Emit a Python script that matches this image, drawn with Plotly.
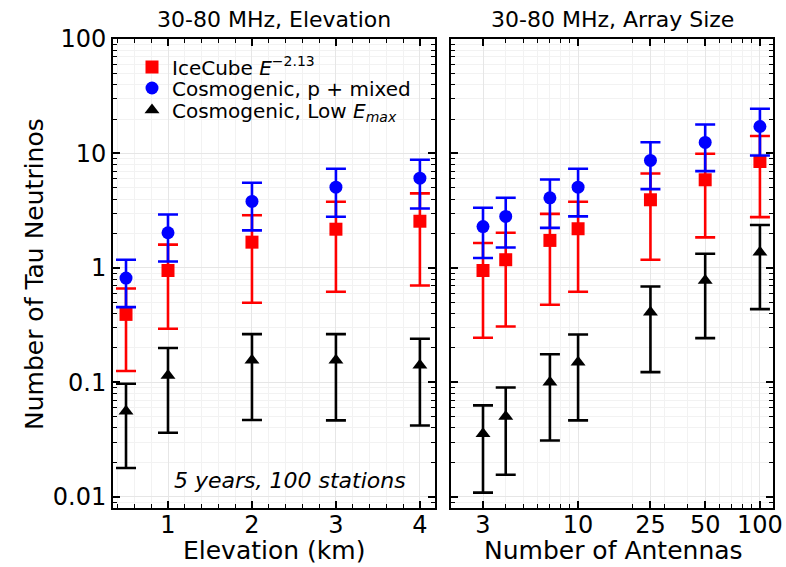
import numpy as np
import plotly.graph_objects as go
from plotly.subplots import make_subplots

# ---------------- data ----------------
elev = [0.5, 1, 2, 3, 4]
ice_elev = [0.393, 0.95, 1.68, 2.18, 2.56]
ice_elev_hi = [0.662, 1.60, 2.89, 3.79, 4.48]
ice_elev_lo = [0.126, 0.294, 0.497, 0.62, 0.703]
cos_elev = [0.815, 2.03, 3.81, 5.08, 6.08]
cos_elev_hi = [1.18, 2.93, 5.55, 7.35, 8.81]
cos_elev_lo = [0.455, 1.14, 2.13, 2.80, 3.31]
low_elev = [0.056, 0.115, 0.156, 0.156, 0.141]
low_elev_hi = [0.0975, 0.20, 0.264, 0.264, 0.241]
low_elev_lo = [0.0179, 0.0363, 0.047, 0.0466, 0.042]

ant = [3, 4, 7, 10, 25, 50, 100]
ice_ant = [0.95, 1.18, 1.74, 2.20, 3.94, 5.89, 8.51]
ice_ant_hi = [1.65, 2.03, 2.97, 3.79, 6.69, 9.94, 14.2]
ice_ant_lo = [0.246, 0.308, 0.477, 0.62, 1.18, 1.85, 2.78]
cos_ant = [2.30, 2.82, 4.10, 5.08, 8.69, 12.5, 17.2]
cos_ant_hi = [3.36, 4.10, 5.93, 7.35, 12.55, 17.9, 24.6]
cos_ant_lo = [1.22, 1.51, 2.24, 2.82, 4.88, 7.01, 9.6]
low_ant = [0.0356, 0.0505, 0.1006, 0.150, 0.411, 0.778, 1.37]
low_ant_hi = [0.063, 0.0904, 0.176, 0.262, 0.689, 1.33, 2.37]
low_ant_lo = [0.0109, 0.0156, 0.0311, 0.0466, 0.123, 0.244, 0.437]

y_ticks = [0.01, 0.1, 1, 10, 100]
y_ticktext = ["0.01", "0.1", "1", "10", "100"]
elev_ticks = [1, 2, 3, 4]
ant_ticks = [3, 10, 25, 50, 100]
ant_minor = [4, 5, 6, 7, 8, 9, 20, 30, 40, 60, 70, 80, 90]

names = ["IceCube <i>E</i><sup>−2.13</sup>",
         "Cosmogenic, p + mixed",
         "Cosmogenic, Low <i>E<sub>max</sub></i>"]
colors = ["#ff0000", "#0000ff", "#000000"]
symbols = ["square", "circle", "triangle-up"]
legends = ["legend", "legend2", "legend3"]

FONT = "DejaVu Sans"

fig = make_subplots(rows=1, cols=2, shared_yaxes=True, horizontal_spacing=0.0242)

def add_series(x, v, hi, lo, i, col, show):
    v = np.array(v); hi = np.array(hi); lo = np.array(lo)
    fig.add_trace(go.Scatter(
        x=x, y=v, mode="markers", name=names[i], showlegend=show,
        legend=legends[i],
        marker=dict(symbol=symbols[i], color=colors[i], size=13,
                    line=dict(width=0)),
        error_y=dict(type="data", symmetric=False, array=hi - v,
                     arrayminus=v - lo, color=colors[i], thickness=2.6,
                     width=10),
    ), row=1, col=col)

add_series(elev, ice_elev, ice_elev_hi, ice_elev_lo, 0, 1, True)
add_series(elev, cos_elev, cos_elev_hi, cos_elev_lo, 1, 1, True)
add_series(elev, low_elev, low_elev_hi, low_elev_lo, 2, 1, True)
add_series(ant, ice_ant, ice_ant_hi, ice_ant_lo, 0, 2, False)
add_series(ant, cos_ant, cos_ant_hi, cos_ant_lo, 1, 2, False)
add_series(ant, low_ant, low_ant_hi, low_ant_lo, 2, 2, False)

y_minor = [k * 10.0 ** e for e in range(-3, 2) for k in range(2, 10)]

axis_common = dict(showline=True, linewidth=2, linecolor="black", mirror="allticks",
                   ticks="inside", ticklen=7, tickwidth=1.5, tickcolor="black",
                   showgrid=True, gridcolor="#e6e6e6", gridwidth=1, zeroline=False,
                   tickfont=dict(family=FONT, size=24, color="black"))

fig.update_xaxes(**axis_common, range=[0.345, 4.18], tickmode="array",
                 tickvals=elev_ticks, ticklabelstandoff=-6,
                 minor=dict(dtick=0.2, tick0=0, ticks="inside", ticklen=4,
                            tickwidth=1, tickcolor="black", showgrid=True,
                            gridcolor="#f2f2f2"),
                 row=1, col=1)
fig.update_xaxes(**axis_common, type="log", range=[np.log10(2.0), np.log10(118)],
                 tickmode="array", tickvals=ant_ticks, ticklabelstandoff=-6,
                 ticktext=[str(t) for t in ant_ticks],
                 minor=dict(tickmode="array", tickvals=ant_minor, ticks="inside",
                            ticklen=4, tickwidth=1, tickcolor="black",
                            showgrid=True, gridcolor="#f2f2f2"),
                 row=1, col=2)
fig.update_yaxes(**axis_common, type="log", range=[np.log10(0.008), 2],
                 tickmode="array", tickvals=y_ticks, ticktext=y_ticktext,
                 minor=dict(tickmode="array", tickvals=y_minor, ticks="inside",
                            ticklen=4, tickwidth=1, tickcolor="black",
                            showgrid=True, gridcolor="#f2f2f2"))
fig.update_yaxes(showticklabels=False, row=1, col=2)

L, R, T, B = 113, 13, 39, 59
W, H = 786, 567
pw, ph = W - L - R, H - T - B

def px(xpix):
    return (xpix - L) / pw

def py(ypix):
    return 1 - (ypix - T) / ph

def note(text, xp, yp, size, angle=0):
    return dict(text=text, x=px(xp), y=py(yp), xref="paper", yref="paper",
                xanchor="center", yanchor="middle", showarrow=False,
                textangle=angle, font=dict(family=FONT, size=size, color="black"))

ann = [
    note("30-80 MHz, Elevation", 274, 20, 22),
    note("30-80 MHz, Array Size", 612, 20, 22),
    note("Elevation (km)", 274, 550, 25),
    note("Number of Antennas", 613, 550, 25),
    note("Number of Tau Neutrinos", 34, 274, 25, -90),
    note("<i>5 years, 100 stations</i>", 290, 480, 22),
]

leg_common = dict(xanchor="left", yanchor="middle", bgcolor="rgba(0,0,0,0)",
                  font=dict(family=FONT, size=20, color="black"), itemwidth=30)

fig.update_layout(
    width=W, height=H, margin=dict(l=L, r=R, t=T, b=B, autoexpand=False),
    paper_bgcolor="white", plot_bgcolor="white",
    font=dict(family=FONT, color="black"),
    annotations=ann,
    legend=dict(x=px(132), y=py(67), **leg_common),
    legend2=dict(x=px(132), y=py(88), **leg_common),
    legend3=dict(x=px(132), y=py(110), **leg_common),
)

fig.write_html("out.html")
